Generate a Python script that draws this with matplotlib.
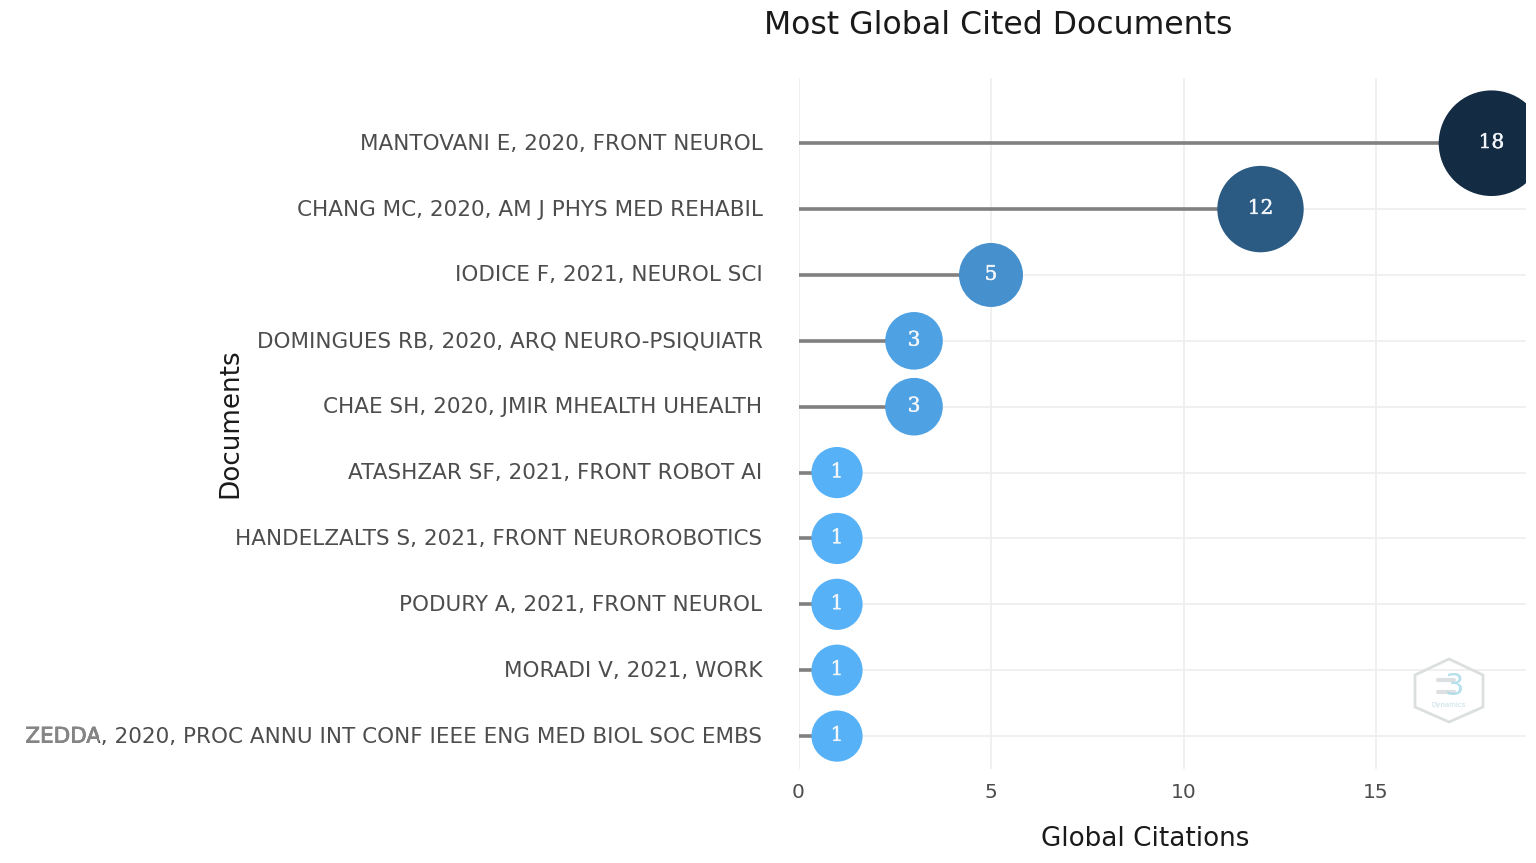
import matplotlib
matplotlib.use("Agg")
import matplotlib.pyplot as plt
import numpy as np
import matplotlib.patheffects as pe
from matplotlib.colors import LinearSegmentedColormap, Normalize
from matplotlib.patches import Polygon, Rectangle
from matplotlib.lines import Line2D
from matplotlib.transforms import Affine2D

documents = [
    "MANTOVANI E, 2020, FRONT NEUROL",
    "CHANG MC, 2020, AM J PHYS MED REHABIL",
    "IODICE F, 2021, NEUROL SCI",
    "DOMINGUES RB, 2020, ARQ NEURO-PSIQUIATR",
    "CHAE SH, 2020, JMIR MHEALTH UHEALTH",
    "ATASHZAR SF, 2021, FRONT ROBOT AI",
    "HANDELZALTS S, 2021, FRONT NEUROROBOTICS",
    "PODURY A, 2021, FRONT NEUROL",
    "MORADI V, 2021, WORK",
    "ZEDDA, 2020, PROC ANNU INT CONF IEEE ENG MED BIOL SOC EMBS",
]
citations = [18, 12, 5, 3, 3, 1, 1, 1, 1, 1]
x_ticks = [0, 5, 10, 15]

W, H = 1536, 863
fig = plt.figure(figsize=(W / 100, H / 100), dpi=100, facecolor="white")
# axes box in pixels
L, R, T, B = 798.5, 1526, 78, 769
ax = fig.add_axes([L / W, 1 - B / H, (R - L) / W, (B - T) / H])

y = np.arange(len(documents))
ax.set_xlim(0, (R - L) / 38.5)
ax.set_ylim(len(documents) - 1 + 0.5, -0.99)

for s in ax.spines.values():
    s.set_visible(False)
ax.set_axisbelow(True)
ax.grid(True, color="#eeeeee", lw=1.2)
ax.set_xticks(x_ticks)
ax.set_yticks(y)
ax.set_yticklabels(documents, fontsize=15.5, color="#4d4d4d", family="DejaVu Sans")
ax.tick_params(axis="both", length=0)
ax.tick_params(axis="y", pad=26)
ax.tick_params(axis="x", pad=10, labelsize=14.5, labelcolor="#4d4d4d")
for lab in ax.get_yticklabels():
    lab.set_transform(lab.get_transform() + Affine2D().translate(0, 1.5))

cmap = LinearSegmentedColormap.from_list("gg", ["#56B1F7", "#132B43"])
norm = Normalize(min(citations), max(citations))

ax.hlines(y, 0, citations, color="#808080", lw=2.6, zorder=2)
diam_px = 48 + 3.2 * np.array(citations)
ax.scatter(citations, y, s=(diam_px * 0.72) ** 2, c=citations, cmap=cmap, norm=norm,
           linewidths=0, zorder=3)
for v, yy in zip(citations, y):
    ax.annotate(str(v), (v, yy), xytext=(0, 0.5), textcoords="offset points",
                ha="center", va="center", color="#f2f6fa",
                fontsize=14.5, family="DejaVu Serif", zorder=4,
                path_effects=[pe.withStroke(linewidth=0.3, foreground="#f2f6fa")])

# the panel cuts the largest bubble at its right edge
fig.add_artist(Rectangle((R, 0), W - R, H, transform=None, facecolor="white",
                         edgecolor="none", zorder=10))

# the first word of the last label is heavier and paler in the source
fig.canvas.draw()
last = ax.get_yticklabels()[-1]
ghost = ax.text(*last.get_position(), documents[-1],
                transform=last.get_transform(), ha=last.get_ha(), va=last.get_va(),
                fontsize=15.5, color="#858585", family="DejaVu Sans", clip_on=True,
                path_effects=[pe.withStroke(linewidth=0.5, foreground="#8f8f8f")])
ghost.set_clip_path(Rectangle((0, 0), 99, H, transform=None))

fig.text(998 / W, 1 - 25 / H, "Most Global Cited Documents", ha="center", va="center",
         fontsize=22.7, color="#1a1a1a")
fig.text(1145 / W, 1 - 839 / H, "Global Citations", ha="center", va="center",
         fontsize=18.9, color="#1a1a1a")
fig.text(230 / W, 1 - 423 / H, "Documents", ha="center", va="center", rotation=90,
         fontsize=18.9, color="#1a1a1a")

# watermark
hex_px = [(1449, 659), (1483, 675), (1483, 707), (1449, 722), (1415, 707), (1415, 675)]
fig.add_artist(Polygon([(px, H - py) for px, py in hex_px], closed=True, transform=None,
                       facecolor="none", edgecolor="#dcdfdf", lw=2.0))
for py in (680, 692):
    fig.add_artist(Line2D([1438, 1454], [H - py, H - py], transform=None, color="#dde0e2",
                          lw=3, solid_capstyle="round"))
fig.text(1454 / W, 1 - 686 / H, "3", ha="center", va="center", fontsize=22,
         color="#a9dbe8", alpha=0.85)
fig.text(1449 / W, 1 - 705 / H, "Dynamics", ha="center", va="center", fontsize=5,
         color="#c4dfe6")

fig.savefig("out.png", dpi=100, facecolor="white")
